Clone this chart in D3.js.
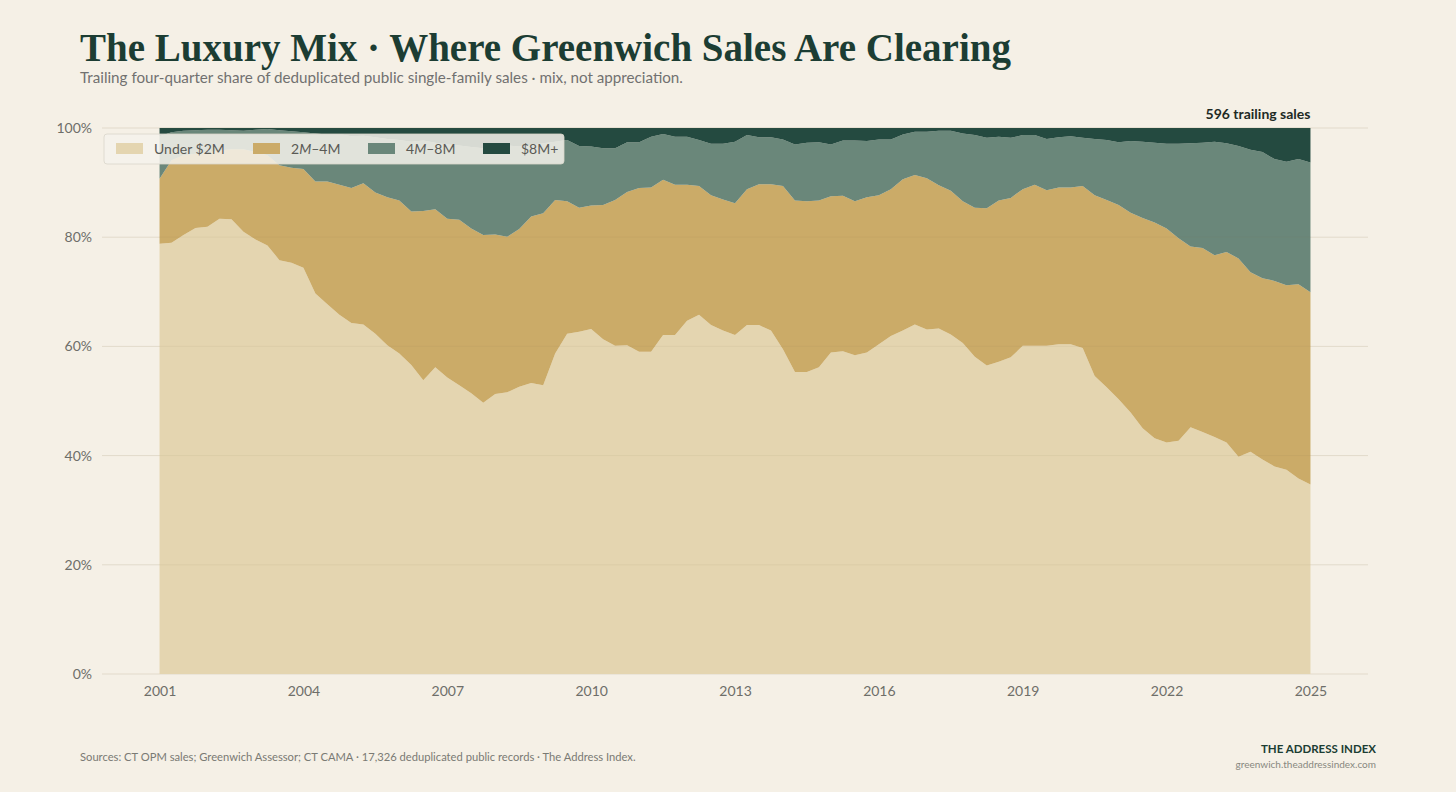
<!DOCTYPE html>
<html>
<head>
<meta charset="utf-8">
<script src="https://cdn.jsdelivr.net/npm/d3@7"></script>
<style>
  body { margin: 0; background: #f5f0e6; }
  svg { display: block; }
</style>
</head>
<body>
<svg></svg>
<script>
var width = 1456;
var height = 792;
var plotLeft = 102, plotRight = 1368, plotTop = 128, plotBottom = 674;

// quarterly trailing shares (%), 2001 Q1 .. 2025 Q1
var under2m = [78.8,79.0,80.4,81.7,81.9,83.4,83.3,81.0,79.6,78.5,75.8,75.3,74.4,69.7,67.7,65.8,64.3,64.0,62.3,60.2,
  58.7,56.6,53.8,56.2,54.3,52.9,51.4,49.7,51.3,51.6,52.6,53.3,52.9,58.7,62.3,62.7,63.2,61.3,60.1,60.2,
  59.0,59.0,62.1,62.1,64.7,65.8,63.9,62.9,62.1,63.9,63.9,62.9,59.5,55.3,55.3,56.2,58.9,59.1,58.4,58.9,
  60.4,61.9,62.9,64.0,63.1,63.3,62.2,60.6,58.1,56.5,57.2,58.0,60.1,60.1,60.1,60.4,60.4,59.7,54.6,52.5,
  50.3,47.9,45.0,43.2,42.4,42.7,45.2,44.3,43.4,42.4,39.8,40.7,39.3,38.0,37.4,35.8,34.7];
var m2to4 = [11.9,15.1,14.6,13.6,13.6,12.5,12.8,15.1,16.0,16.5,17.4,17.4,18.1,20.5,22.5,23.8,24.7,25.9,25.9,27.1,
  28.0,28.1,31.0,28.9,29.1,30.3,30.2,30.7,29.2,28.5,28.9,30.5,31.5,28.1,24.3,22.7,22.6,24.6,26.7,28.1,
  30.0,30.1,28.4,27.5,24.9,23.6,23.8,24.0,24.1,24.9,25.8,26.8,29.9,31.4,31.3,30.5,28.6,28.5,28.2,28.4,
  27.3,26.9,27.7,27.4,27.7,26.2,26.3,26.0,27.3,28.8,29.5,29.2,28.7,29.5,28.5,28.7,28.7,29.7,33.1,34.3,
  35.6,36.6,38.5,39.5,39.2,37.1,33.1,33.7,33.3,34.9,36.3,32.9,33.2,34.0,33.8,35.6,35.2];
var m4to8 = [7.8,5.1,4.5,4.3,4.2,3.8,3.5,3.4,4.1,4.8,6.4,6.7,6.7,8.8,8.6,9.3,9.5,8.7,10.1,10.7,
  11.1,12.8,12.9,12.2,13.6,13.6,14.9,15.9,16.0,16.7,15.1,13.1,12.8,10.7,11.2,11.3,10.8,10.4,9.5,9.1,
  8.4,9.3,8.4,8.8,8.8,8.4,9.4,10.2,11.3,9.9,8.6,8.6,8.5,10.3,10.7,10.7,9.5,10.1,11.1,10.3,
  10.2,9.1,8.2,7.9,8.5,10.0,11.0,12.4,13.3,12.9,11.7,11.0,9.9,9.1,9.4,9.2,9.4,8.8,10.3,11.0,
  11.5,13.1,14.0,14.6,15.5,17.3,18.9,19.3,20.8,19.9,20.6,22.4,23.1,22.3,22.6,22.9,23.8];
var m8plus = [1.5,0.8,0.5,0.4,0.3,0.3,0.4,0.5,0.3,0.2,0.4,0.6,0.8,1.0,1.2,1.1,1.5,1.4,1.7,2.0,
  2.2,2.5,2.3,2.7,3.0,3.2,3.5,3.7,3.5,3.2,3.4,3.1,2.8,2.5,2.2,3.3,3.4,3.7,3.7,2.6,
  2.6,1.6,1.1,1.6,1.6,2.2,2.9,2.9,2.5,1.3,1.7,1.7,2.1,3.0,2.7,2.6,3.0,2.3,2.3,2.4,
  2.1,2.1,1.2,0.7,0.7,0.5,0.5,1.0,1.3,1.8,1.6,1.8,1.3,1.3,2.0,1.7,1.5,1.8,2.0,2.2,
  2.6,2.4,2.5,2.7,2.9,2.9,2.8,2.7,2.5,2.8,3.3,4.0,4.4,5.7,6.2,5.7,6.3];

var firstYear = 2001;
var yearTicks = [2001, 2004, 2007, 2010, 2013, 2016, 2019, 2022, 2025];
var pctTicks = [0, 20, 40, 60, 80, 100];
var keys = ["under2m", "m2to4", "m4to8", "m8plus"];
var legendLabels = [["Under $2M"], ["2", "M", "–4M"], ["4", "M", "–8M"], ["$8M+"]];
var colors = ["#e4d5b0", "#cbab68", "#6a877a", "#244a40"];
var trailingSales = 596;

var rows = under2m.map(function(d, i) {
  return { year: firstYear + i / 4, under2m: d, m2to4: m2to4[i], m4to8: m4to8[i], m8plus: m8plus[i] };
});

var svg = d3.select("svg").attr("width", width).attr("height", height);
var sans = "Lato, 'Open Sans', sans-serif";

svg.append("rect").attr("width", width).attr("height", height).attr("fill", "#f5f0e6");

var x = d3.scaleLinear().domain([1999.8, 2026.2]).range([plotLeft, plotRight]);
var y = d3.scaleLinear().domain([0, 100]).range([plotBottom, plotTop]);

// grid
svg.append("g")
  .selectAll("line")
  .data(pctTicks)
  .enter()
  .append("line")
  .attr("x1", plotLeft).attr("x2", plotRight)
  .attr("y1", function(d) { return y(d); })
  .attr("y2", function(d) { return y(d); })
  .attr("stroke", "#e2dacb")
  .attr("stroke-width", 1);

// stacked areas
var stack = d3.stack().keys(keys);
var area = d3.area()
  .x(function(d) { return x(d.data.year); })
  .y0(function(d) { return y(d[0]); })
  .y1(function(d) { return y(d[1]); });

svg.append("g")
  .selectAll("path")
  .data(stack(rows))
  .enter()
  .append("path")
  .attr("d", area)
  .attr("fill", function(d, i) { return colors[i]; });

// faint grid over the areas
svg.append("g")
  .selectAll("line")
  .data(pctTicks.slice(1))
  .enter()
  .append("line")
  .attr("x1", x(firstYear)).attr("x2", x(2025))
  .attr("y1", function(d) { return y(d); })
  .attr("y2", function(d) { return y(d); })
  .attr("stroke", "#8a7350")
  .attr("stroke-opacity", 0.08);

// axes
var yAxis = svg.append("g")
  .attr("transform", "translate(" + plotLeft + ",0)")
  .call(d3.axisLeft(y).tickValues(pctTicks).tickSize(0).tickPadding(10)
    .tickFormat(function(d) { return d + "%"; }));
var xAxis = svg.append("g")
  .attr("transform", "translate(0," + plotBottom + ")")
  .call(d3.axisBottom(x).tickValues(yearTicks).tickSize(0).tickPadding(12)
    .tickFormat(d3.format("d")));
[xAxis, yAxis].forEach(function(g) {
  g.select(".domain").remove();
  g.selectAll("text").attr("font-family", sans).attr("font-size", 14).attr("fill", "#6e6e69");
});

// legend
var legend = svg.append("g");
legend.append("rect")
  .attr("x", 104).attr("y", 134).attr("width", 460).attr("height", 30).attr("rx", 3)
  .attr("fill", "#f4f2eb").attr("fill-opacity", 0.86)
  .attr("stroke", "#d9d5ca").attr("stroke-width", 0.8);
var legendX = [116, 253, 368, 483];
var item = legend.selectAll(".item")
  .data(keys)
  .enter()
  .append("g")
  .attr("transform", function(d, i) { return "translate(" + legendX[i] + ",143)"; });
item.append("rect")
  .attr("width", 27).attr("height", 11)
  .attr("fill", function(d, i) { return colors[i]; });
var label = item.append("text")
  .attr("x", 38).attr("y", 10.5)
  .attr("font-family", sans).attr("font-size", 14).attr("fill", "#5a5a55");
label.selectAll("tspan")
  .data(function(d, i) { return legendLabels[i]; })
  .enter()
  .append("tspan")
  .attr("font-style", function(d, j) { return j == 1 ? "italic" : null; })
  .text(function(d) { return d; });

// titles
svg.append("text")
  .attr("x", 80).attr("y", 61)
  .attr("font-family", "'Liberation Serif', serif").attr("font-weight", 700)
  .attr("font-size", 39).attr("fill", "#1c3d33")
  .text("The Luxury Mix · Where Greenwich Sales Are Clearing");
svg.append("text")
  .attr("x", 80).attr("y", 83)
  .attr("font-family", sans).attr("font-size", 15.2).attr("fill", "#717170")
  .text("Trailing four-quarter share of deduplicated public single-family sales · mix, not appreciation.");
svg.append("text")
  .attr("x", x(2025)).attr("y", 119).attr("text-anchor", "end")
  .attr("font-family", sans).attr("font-weight", 700).attr("font-size", 14).attr("fill", "#1d2a25")
  .text(trailingSales + " trailing sales");

// footer
svg.append("text")
  .attr("x", 80).attr("y", 761)
  .attr("font-family", sans).attr("font-size", 11.2).attr("fill", "#7a7a74")
  .text("Sources: CT OPM sales; Greenwich Assessor; CT CAMA · 17,326 deduplicated public records · The Address Index.");
svg.append("text")
  .attr("x", 1376).attr("y", 753).attr("text-anchor", "end")
  .attr("font-family", sans).attr("font-weight", 700).attr("font-size", 11.5).attr("fill", "#1c3d33")
  .text("THE ADDRESS INDEX");
svg.append("text")
  .attr("x", 1376).attr("y", 768).attr("text-anchor", "end")
  .attr("font-family", sans).attr("font-size", 10).attr("fill", "#888880")
  .text("greenwich.theaddressindex.com");
</script>
</body>
</html>
